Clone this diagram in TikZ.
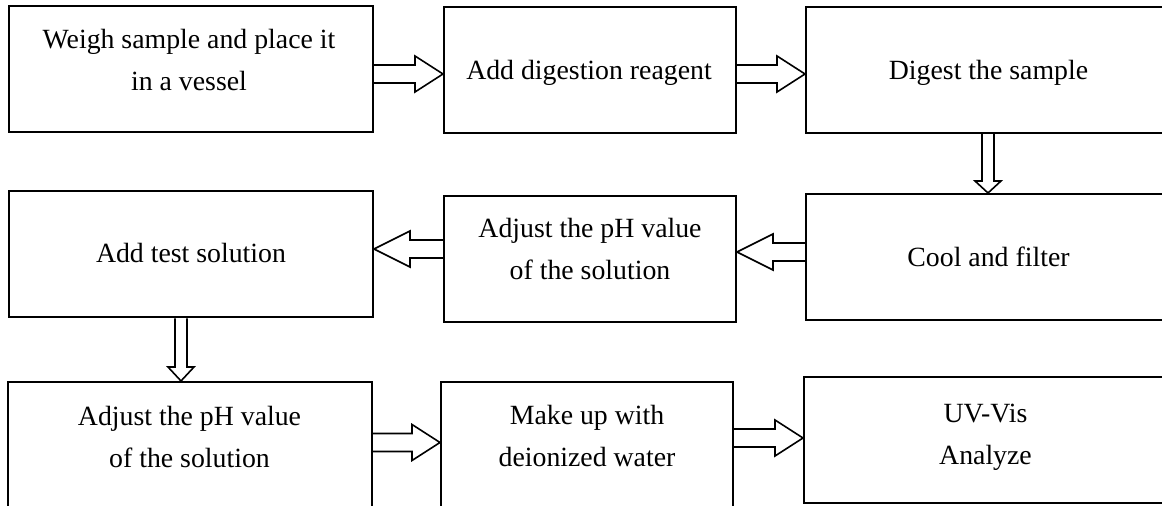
\documentclass[tikz,border=0pt]{standalone}
\usepackage{fontspec}
\setmainfont{Liberation Serif}
\usetikzlibrary{calc}

\tikzset{
  box/.style={draw, line width=1pt, inner sep=0pt, minimum height=63pt},
  wide/.style={box, minimum width=182pt},
  narrow/.style={box, minimum width=146pt},
  txt/.style={align=center, inner sep=0pt, font=\fontsize{13.9}{21}\selectfont},
  blk/.style={line width=0.8pt, line join=miter}
}

% hollow block arrows: #1 from, #2 to, #3 shaft centre (px)
\newcommand{\blkright}[3]{%
  \draw[blk] (#1.east |- 0,#3-9) -- ($(#2.west |- 0,#3-9)+(-28,0)$) -- ($(#2.west |- 0,#3-18)+(-28,0)$)
    -- (#2.west |- 0,#3) -- ($(#2.west |- 0,#3+18)+(-28,0)$) -- ($(#2.west |- 0,#3+9)+(-28,0)$) -- (#1.east |- 0,#3+9);}
\newcommand{\blkleft}[3]{%
  \draw[blk] (#1.west |- 0,#3-9) -- ($(#2.east |- 0,#3-9)+(36,0)$) -- ($(#2.east |- 0,#3-18)+(36,0)$)
    -- (#2.east |- 0,#3) -- ($(#2.east |- 0,#3+18)+(36,0)$) -- ($(#2.east |- 0,#3+9)+(36,0)$) -- (#1.west |- 0,#3+9);}
\newcommand{\blkdown}[4]{%
  \draw[blk] (#1.south -| #3-6,0) -- ($(#2.north -| #3-6,0)+(0,-#4)$) -- ($(#2.north -| #3-13,0)+(0,-#4)$)
    -- (#2.north -| #3,0) -- ($(#2.north -| #3+13,0)+(0,-#4)$) -- ($(#2.north -| #3+6,0)+(0,-#4)$) -- (#1.south -| #3+6,0);}

\begin{document}
\begin{tikzpicture}[x=0.5pt,y=-0.5pt]
	\clip (0,0) rectangle (1162,506);

	% first row
	\node[wide] (weigh) at (191,69.5) {};
	\node[txt] (weigh-t) at (189,60.5) {Weigh sample and place it\\in a vessel};
	\node[narrow] (reagent) at (590,70) {};
	\node[txt] (reagent-t) at (589,72.5) {Add digestion reagent};
	\node[wide] (digest) at (988,70) {};
	\node[txt] (digest-t) at (988.5,72.5) {Digest the sample};

	% second row
	\node[wide] (test) at (191,254.5) {};
	\node[txt] (test-t) at (191,253) {Add test solution};
	\node[narrow] (ph1) at (590,259) {};
	\node[txt] (ph1-t) at (590,249) {Adjust the pH value\\of the solution};
	\node[wide] (cool) at (988,257) {};
	\node[txt] (cool-t) at (988.5,256.5) {Cool and filter};

	% third row
	\node[wide] (ph2) at (189.5,445) {};
	\node[txt] (ph2-t) at (189.5,436.5) {Adjust the pH value\\of the solution};
	\node[narrow] (water) at (587,445) {};
	\node[txt] (water-t) at (587,435.5) {Make up with\\deionized water};
	\node[wide] (uvvis) at (986,440.5) {};
	\node[txt] (uvvis-t) at (985.5,437.5) {UV-Vis\\Analyze};

	\blkright{weigh}{reagent}{74}
	\blkright{reagent}{digest}{74}
	\blkdown{digest}{cool}{988}{12}
	\blkleft{cool}{ph1}{252}
	\blkleft{ph1}{test}{249}
	\blkdown{test}{ph2}{181}{14}
	\blkright{ph2}{water}{442.5}
	\blkright{water}{uvvis}{438}
\end{tikzpicture}
\end{document}
